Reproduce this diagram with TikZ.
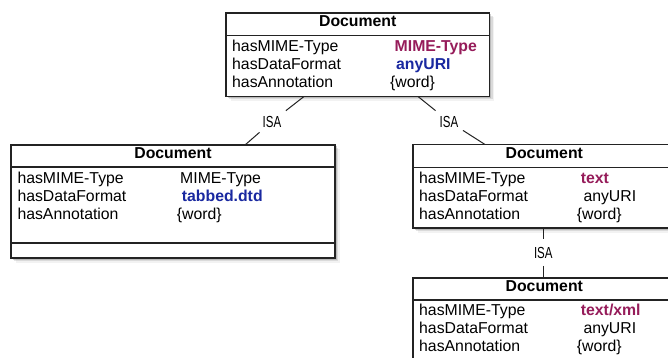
\documentclass[tikz,border=0pt]{standalone}
\usepackage{fontspec}
\setmainfont{Liberation Sans}
\newfontfamily\isafont[FakeStretch=0.72]{Liberation Sans}
\usetikzlibrary{shadows}
\definecolor{mimered}{RGB}{150,28,90}
\definecolor{uriblue}{RGB}{25,40,160}
\definecolor{edge}{RGB}{35,35,35}
\begin{document}
\begin{tikzpicture}[x=1pt,y=-1pt,
  box/.style={draw=edge, line width=1.2pt, fill=white, rectangle, inner sep=0pt,
    drop shadow={shadow xshift=1.5pt,shadow yshift=-1.5pt,opacity=.35},
    drop shadow={shadow xshift=3pt,shadow yshift=-3pt,opacity=.2},
    drop shadow={shadow xshift=4.5pt,shadow yshift=-4.5pt,opacity=.1}},
  sepline/.style={draw=edge, line width=1.2pt},
  conn/.style={draw=edge, line width=1pt},
  ttl/.style={anchor=base, font=\fontsize{15.8}{18}\selectfont\bfseries, inner sep=0pt},
  prop/.style={anchor=base west, font=\fontsize{15.8}{18}\selectfont, inner sep=0pt},
  val/.style={anchor=base west, font=\fontsize{15.8}{18}\selectfont, inner sep=0pt},
  valb/.style={val, font=\fontsize{15.8}{18}\selectfont\bfseries},
  isa/.style={font=\isafont\fontsize{16}{18}\selectfont, inner xsep=4.5pt, inner ysep=5pt},
]
\clip (0,0) rectangle (668,358);
\fill[white] (0,0) rectangle (668,358);

% boxes
\node[box, minimum width=263.5pt, minimum height=83.5pt] (top) at (357.75,54.75) {};
\node[box, minimum width=324pt, minimum height=113pt] (left) at (173,201.5) {};
\node[box, minimum width=263.5pt, minimum height=83.5pt] (right) at (544.75,186.25) {};
\node[box, minimum width=263.5pt, minimum height=110pt] (bottom) at (544.75,333) {};

% header separators
\draw[sepline] (top.west |- 0,35.5) -- (top.east |- 0,35.5);
\draw[sepline] (left.west |- 0,167) -- (left.east |- 0,167);
\draw[sepline] (left.west |- 0,243) -- (left.east |- 0,243);
\draw[sepline] (right.west |- 0,167.5) -- (right.east |- 0,167.5);
\draw[sepline] (bottom.west |- 0,300) -- (bottom.east |- 0,300);

% top box text
\node[ttl] (t0) at (357.75,26.7) {Document};
\node[prop] (t1) at (232,51.7) {hasMIME-Type};
\node[prop] (t2) at (232,69.7) {hasDataFormat};
\node[prop] (t3) at (232,87.7) {hasAnnotation};
\node[valb, text=mimered] (t1v) at (394.5,51.7) {MIME-Type};
\node[valb, text=uriblue] (t2v) at (396,69.7) {anyURI};
\node[val] (t3v) at (390,87.7) {\{word\}};

% left box text
\node[ttl] (l0) at (173,158.3) {Document};
\node[prop] (l1) at (17.3,183.3) {hasMIME-Type};
\node[prop] (l2) at (17.3,201.3) {hasDataFormat};
\node[prop] (l3) at (17.3,219.3) {hasAnnotation};
\node[val] (l1v) at (180,183.3) {MIME-Type};
\node[valb, text=uriblue] (l2v) at (181.7,201.3) {tabbed.dtd};
\node[val] (l3v) at (176.7,219.3) {\{word\}};

% right box text
\node[ttl] (r0) at (544.3,158.3) {Document};
\node[prop] (r1) at (419,183.3) {hasMIME-Type};
\node[prop] (r2) at (419,201.3) {hasDataFormat};
\node[prop] (r3) at (419,219.3) {hasAnnotation};
\node[valb, text=mimered] (r1v) at (580.7,183.3) {text};
\node[val] (r2v) at (583.3,201.3) {anyURI};
\node[val] (r3v) at (576.7,219.3) {\{word\}};

% bottom box text
\node[ttl] (b0) at (544.3,291) {Document};
\node[prop] (b1) at (419,315) {hasMIME-Type};
\node[prop] (b2) at (419,333) {hasDataFormat};
\node[prop] (b3) at (419,351) {hasAnnotation};
\node[valb, text=mimered] (b1v) at (580.7,315) {text/xml};
\node[val] (b2v) at (583.3,333) {anyURI};
\node[val] (b3v) at (576.7,351) {\{word\}};

% ISA connectors
\coordinate (a1) at (304,96.5);
\coordinate (e1) at (245,145);
\coordinate (a2) at (418,96.5);
\coordinate (e2) at (485,144.5);
\coordinate (a3) at (543.3,228);
\coordinate (e3) at (543.3,278);
\node[isa] (isa1) at (272,121.5) {ISA};
\node[isa] (isa2) at (449,121.5) {ISA};
\node[isa, inner ysep=7.5pt] (isa3) at (543.3,252.5) {ISA};
\draw[conn] (a1) -- (isa1) -- (e1);
\draw[conn] (a2) -- (isa2) -- (e2);
\draw[conn] (a3) -- (isa3) -- (e3);
\end{tikzpicture}
\end{document}
